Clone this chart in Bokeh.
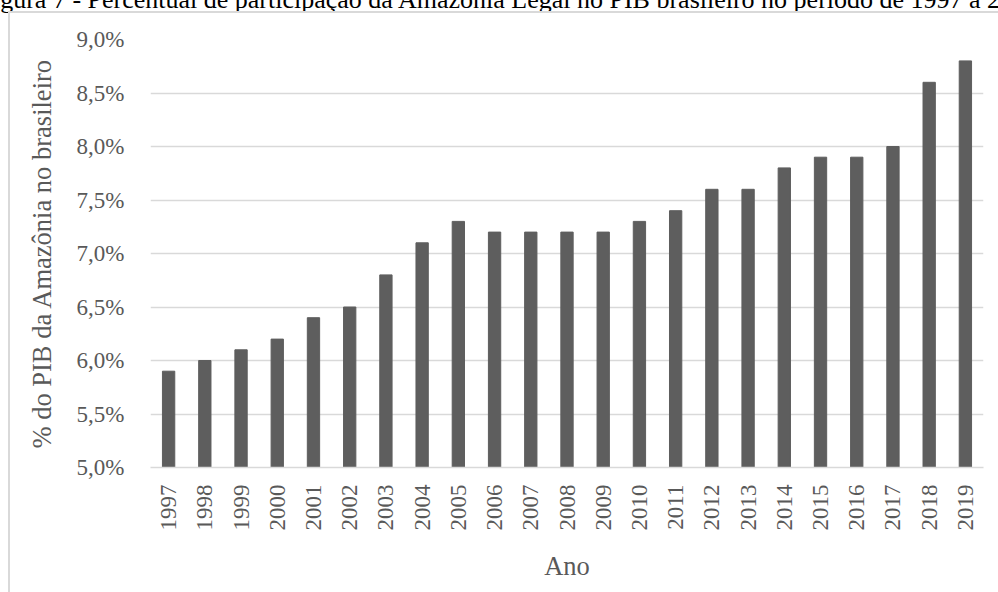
import math
from bokeh.plotting import figure
from bokeh.models import ColumnDataSource, FixedTicker, Title, InlineStyleSheet
from bokeh.embed import file_html
from bokeh.resources import INLINE

# Share of Legal Amazon in Brazilian GDP (%), 1997-2019
years = ["1997", "1998", "1999", "2000", "2001", "2002", "2003", "2004",
         "2005", "2006", "2007", "2008", "2009", "2010", "2011", "2012",
         "2013", "2014", "2015", "2016", "2017", "2018", "2019"]
share = [5.9, 6.0, 6.1, 6.2, 6.4, 6.5, 6.8, 7.1, 7.3, 7.2, 7.2, 7.2, 7.2,
         7.3, 7.4, 7.6, 7.6, 7.8, 7.9, 7.9, 8.0, 8.6, 8.8]
y_ticks = [5.0, 5.5, 6.0, 6.5, 7.0, 7.5, 8.0, 8.5, 9.0]
y_tick_labels = ["5,0%", "5,5%", "6,0%", "6,5%", "7,0%", "7,5%", "8,0%", "8,5%", "9,0%"]
title_text = ("Figura 7 - Percentual de participação da Amazônia Legal no PIB "
              "brasileiro no período de 1997 a 2019")

SHIFT = 48                       # canvas rows hidden above the page top
LEFT, TOP, BOTTOM = 150, 39 + SHIFT, 125
FONT = "Liberation Serif"
GRAY = "#595959"

source = ColumnDataSource(data=dict(year=years, share=share))

p = figure(x_range=years, y_range=(5.0, 9.0),
           frame_width=833, frame_height=428,
           min_border_left=LEFT, min_border_right=15,
           min_border_top=TOP, min_border_bottom=BOTTOM,
           output_backend="svg", toolbar_location=None,
           background_fill_color="white", border_fill_color="white")

p.vbar(x="year", top="share", bottom=5.0, width=0.34, source=source,
       fill_color="#5e5e5e", line_color="#5e5e5e")

# axes and grid
p.outline_line_color = None
p.xgrid.grid_line_color = None
p.ygrid.grid_line_color = "#d9d9d9"
p.ygrid.grid_line_width = 1.3
p.yaxis.ticker = FixedTicker(ticks=y_ticks)
p.yaxis.major_label_overrides = {t: l for t, l in zip(y_ticks, y_tick_labels)}

for ax in (p.xaxis, p.yaxis):
    ax.axis_line_color = None
    ax.major_tick_line_color = None
    ax.minor_tick_line_color = None
    ax.major_label_text_font = FONT
    ax.major_label_text_color = GRAY
    ax.major_label_text_font_size = "23px"
    ax.axis_label_text_font = FONT
    ax.axis_label_text_color = GRAY
    ax.axis_label_text_font_size = "26.5px"
    ax.axis_label_text_font_style = "normal"

p.xaxis.axis_line_color = "#d9d9d9"
p.xaxis.axis_line_width = 1.3
p.xaxis.major_label_orientation = math.pi / 2
p.xaxis.major_label_standoff = 11
p.xaxis.axis_label = "Ano"
p.xaxis.axis_label_standoff = 17

p.yaxis.axis_label = "% do PIB da Amazônia no brasileiro"
p.yaxis.major_label_standoff = 20
p.yaxis.axis_label_standoff = 17

# caption line above the chart box
p.add_layout(Title(text=title_text, align="left", offset=-22 - LEFT, standoff=52,
                   text_font=FONT, text_font_size="26px", text_font_style="normal",
                   text_color="black"), "above")

# page offset and light chart-area border (top and left edges)
p.stylesheets = [InlineStyleSheet(css=f"""
:host {{ margin-top: -{SHIFT}px !important; }}
:host::after {{
  content: "";
  position: fixed;
  left: 8px; top: 11px; right: 0; bottom: 0;
  border-left: 2px solid #d9d9d9;
  border-top: 2px solid #d9d9d9;
  pointer-events: none;
  z-index: 10;
}}
""")]

open("out.html", "w").write(file_html(p, INLINE))
